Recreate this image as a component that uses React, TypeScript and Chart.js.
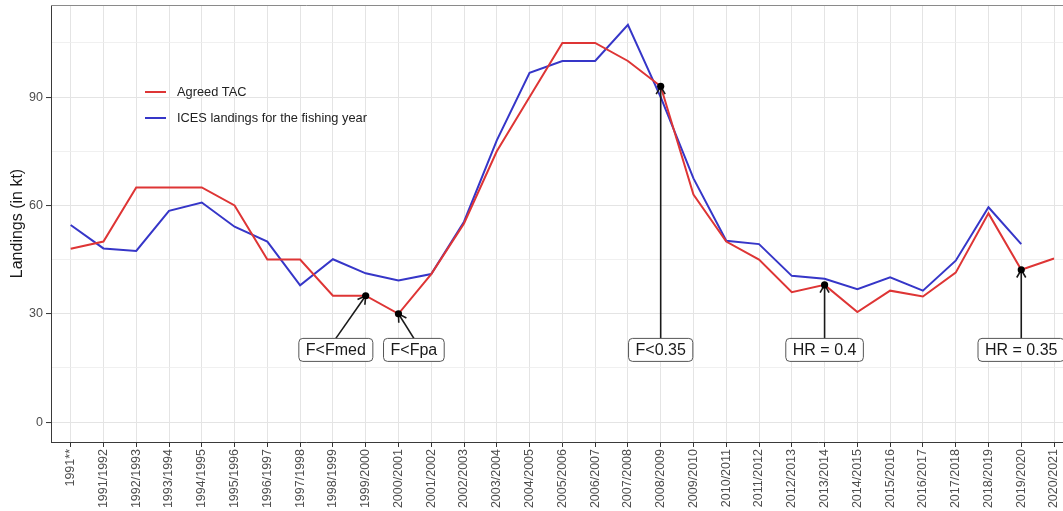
import React, { useEffect, useRef } from 'react';
import { Chart, registerables } from 'chart.js';

Chart.register(...registerables);

const categories = [
  '1991**', '1991/1992', '1992/1993', '1993/1994', '1994/1995', '1995/1996', '1996/1997',
  '1997/1998', '1998/1999', '1999/2000', '2000/2001', '2001/2002', '2002/2003', '2003/2004',
  '2004/2005', '2005/2006', '2006/2007', '2007/2008', '2008/2009', '2009/2010', '2010/2011',
  '2011/2012', '2012/2013', '2013/2014', '2014/2015', '2015/2016', '2016/2017', '2017/2018',
  '2018/2019', '2019/2020', '2020/2021',
];

const agreedTAC = [
  48, 50, 65, 65, 65, 60, 45, 45, 35, 35, 30, 41, 55, 75, 90, 105, 105, 100, 93, 63, 50,
  45, 36, 38, 30.5, 36.4, 34.8, 41.4, 57.8, 42.2, 45.3,
];

const icesLandings = [
  54.6, 48.1, 47.4, 58.5, 60.8, 54.1, 50, 37.9, 45.1, 41.2, 39.2, 41, 55.5, 78, 96.7, 100,
  100, 110, 90, 67.5, 50.2, 49.3, 40.5, 39.7, 36.8, 40.1, 36.4, 44.7, 59.5, 49.3, null,
];

const yTicks = [0, 15, 30, 45, 60, 75, 90, 105];
const yMajorStep = 30;

const annotationText = ['F<Fmed', 'F<Fpa', 'F<0.35', 'HR = 0.4', 'HR = 0.35'];
const annotationIndex = [9, 10, 18, 23, 29];
const annotationLabelX = [8.09, 10.47, 18, 23, 29];
const annotationLabelY = [20, 20, 20, 20, 20];

const seriesNames = ['Agreed TAC', 'ICES landings for the fishing year'];

const RED = '#DE3535';
const BLUE = '#3636C8';
const FONT = '"Liberation Sans", Arial, Helvetica, sans-serif';

const overlayPlugin = {
  id: 'overlay',
  afterDatasetsDraw(chart: any) {
    const { ctx, scales } = chart;
    const x = scales.x;
    const y = scales.y;
    ctx.save();
    ctx.font = `16px ${FONT}`;
    annotationText.forEach((t, k) => {
      const i = annotationIndex[k];
      const px = x.getPixelForValue(i);
      const py = y.getPixelForValue(agreedTAC[i]);
      const lx = x.getPixelForValue(annotationLabelX[k]);
      const ly = y.getPixelForValue(annotationLabelY[k]);
      const w = ctx.measureText(t).width + 14;
      const h = 23;
      const top = ly - h / 2;
      const sx = lx;
      const sy = top;
      ctx.strokeStyle = '#1a1a1a';
      ctx.lineWidth = 1.6;
      ctx.beginPath();
      ctx.moveTo(sx, sy);
      ctx.lineTo(px, py);
      ctx.stroke();
      const ang = Math.atan2(py - sy, px - sx);
      const L = 9;
      const a = Math.PI / 6;
      ctx.beginPath();
      ctx.moveTo(px - L * Math.cos(ang - a), py - L * Math.sin(ang - a));
      ctx.lineTo(px, py);
      ctx.lineTo(px - L * Math.cos(ang + a), py - L * Math.sin(ang + a));
      ctx.stroke();
      ctx.fillStyle = '#000';
      ctx.beginPath();
      ctx.arc(px, py, 3.6, 0, Math.PI * 2);
      ctx.fill();
      ctx.fillStyle = '#fff';
      ctx.strokeStyle = '#555';
      ctx.lineWidth = 1;
      ctx.beginPath();
      ctx.roundRect(lx - w / 2, top, w, h, 4);
      ctx.fill();
      ctx.stroke();
      ctx.fillStyle = '#1a1a1a';
      ctx.textAlign = 'center';
      ctx.textBaseline = 'middle';
      ctx.fillText(t, lx, ly + 1);
    });
    ctx.restore();
  },
  afterDraw(chart: any) {
    const { ctx, chartArea } = chart;
    ctx.save();
    // panel border (top / right)
    ctx.strokeStyle = '#8a8a8a';
    ctx.lineWidth = 1;
    ctx.beginPath();
    ctx.moveTo(chartArea.left, chartArea.top + 0.5);
    ctx.lineTo(chartArea.right, chartArea.top + 0.5);
    ctx.moveTo(chartArea.right - 0.5, chartArea.top);
    ctx.lineTo(chartArea.right - 0.5, chartArea.bottom);
    ctx.stroke();
    // legend
    const colors = [RED, BLUE];
    ctx.font = `12.8px ${FONT}`;
    ctx.textAlign = 'left';
    ctx.textBaseline = 'middle';
    seriesNames.forEach((name, k) => {
      const ly = chartArea.top + 87 + k * 26;
      ctx.strokeStyle = colors[k];
      ctx.lineWidth = 2;
      ctx.beginPath();
      ctx.moveTo(chartArea.left + 94, ly);
      ctx.lineTo(chartArea.left + 115, ly);
      ctx.stroke();
      ctx.fillStyle = '#222';
      ctx.fillText(name, chartArea.left + 126, ly);
    });
    ctx.restore();
  },
};

export default function App() {
  const canvasRef = useRef<HTMLCanvasElement | null>(null);

  useEffect(() => {
    if (!canvasRef.current) return;
    const chart = new Chart(canvasRef.current, {
      type: 'line',
      data: {
        datasets: [
          {
            label: seriesNames[0],
            data: agreedTAC.map((v, i) => ({ x: i, y: v })),
            borderColor: RED,
            borderWidth: 2,
            pointRadius: 0,
            tension: 0,
            fill: false,
          },
          {
            label: seriesNames[1],
            data: icesLandings.map((v, i) => ({ x: i, y: v })),
            borderColor: BLUE,
            borderWidth: 2,
            pointRadius: 0,
            tension: 0,
            fill: false,
            spanGaps: false,
          },
        ],
      },
      options: {
        animation: false,
        responsive: false,
        devicePixelRatio: 1,
        layout: { padding: { top: 5, left: 0, right: 6.3, bottom: 0 } },
        plugins: {
          legend: { display: false },
          tooltip: { enabled: false },
        },
        scales: {
          x: {
            type: 'linear',
            min: -0.6,
            max: 30.6,
            afterBuildTicks: (scale: any) => {
              scale.ticks = categories.map((_, i) => ({ value: i }));
            },
            afterFit: (scale: any) => {
              scale.height = 69;
              scale.paddingLeft = 0;
              scale.paddingRight = 0;
            },
            ticks: {
              autoSkip: false,
              minRotation: 90,
              maxRotation: 90,
              padding: 2,
              color: '#4d4d4d',
              font: { family: FONT, size: 12.5 },
              callback: (v: any) => categories[v] ?? '',
            },
            grid: {
              color: '#e4e4e4',
              lineWidth: 1,
              tickColor: '#333',
              tickLength: 5,
              tickWidth: 1,
            },
            border: { display: true, color: '#3a3a3a', width: 1 },
          },
          y: {
            type: 'linear',
            min: -5.5,
            max: 115.5,
            afterBuildTicks: (scale: any) => {
              scale.ticks = yTicks.map((v) => ({ value: v }));
            },
            afterFit: (scale: any) => {
              scale.width = 51;
              scale.paddingTop = 0;
              scale.paddingBottom = 0;
            },
            ticks: {
              padding: 3,
              color: '#4d4d4d',
              font: { family: FONT, size: 12.5 },
              callback: (v: any) => (v % yMajorStep === 0 ? String(v) : ''),
            },
            grid: {
              color: (c: any) => (c.tick && c.tick.value % yMajorStep === 0 ? '#e4e4e4' : '#ececec'),
              lineWidth: (c: any) => (c.tick && c.tick.value % yMajorStep === 0 ? 1.1 : 0.8),
              tickColor: (c: any) =>
                c.tick && c.tick.value % yMajorStep === 0 ? '#333' : 'rgba(0,0,0,0)',
              tickLength: 5,
              tickWidth: 1,
            },
            border: { display: true, color: '#3a3a3a', width: 1 },
            title: {
              display: true,
              text: 'Landings (in kt)',
              color: '#1a1a1a',
              font: { family: FONT, size: 16 },
              padding: { top: 8, bottom: 0 },
            },
          },
        },
      },
      plugins: [overlayPlugin],
    } as any);
    return () => chart.destroy();
  }, []);

  return (
    <div
      style={{
        position: 'fixed',
        left: 0,
        top: 0,
        width: 1063,
        height: 511,
        overflow: 'hidden',
        background: '#fff',
      }}
    >
      <canvas
        ref={canvasRef}
        width={1080}
        height={511}
        style={{ display: 'block', width: 1080, height: 511 }}
      />
    </div>
  );
}
